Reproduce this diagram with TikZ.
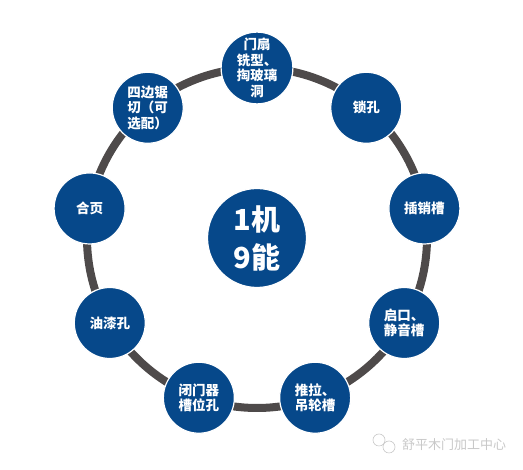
\documentclass[tikz,border=0pt]{standalone}
\usepackage{fontspec}
\setmainfont{Noto Sans CJK SC}
\usetikzlibrary{positioning}
\definecolor{ringgray}{RGB}{78,74,74}
\definecolor{nodeblue}{RGB}{6,72,138}
\definecolor{markgray}{RGB}{200,200,200}

\begin{document}
\begin{tikzpicture}[x=1pt, y=1pt,
  item/.style={circle, fill=nodeblue, draw=white, line width=1.2pt, minimum size=71pt, inner sep=0pt,
    text=white, align=center, font=\bfseries\fontsize{13.5}{15.5}\selectfont},
  hub/.style={circle, fill=nodeblue, draw=white, line width=1.2pt, minimum size=99pt, inner sep=0pt,
    text=white, align=center, font=\bfseries\fontsize{29}{38}\selectfont}]
\useasboundingbox (0,0) rectangle (523,470);
\coordinate (o) at (257,232);
% ring
\draw[ringgray, line width=8pt] (o) circle (170pt);
\node[hub] (hub) at (o) {1机\\9能};
% nine functions
\node[item] (door)  at ([shift={(90:170pt)}]o)   {门扇\\铣型、\\掏玻璃\\洞};
\node[item] (lock)  at ([shift={(50:170pt)}]o)   {锁孔};
\node[item] (bolt)  at ([shift={(10:170pt)}]o)   {插销槽};
\node[item] (rebate) at ([shift={(-30:170pt)}]o) {启口、\\静音槽};
\node[item] (slide) at ([shift={(-70:170pt)}]o)  {推拉、\\吊轮槽};
\node[item] (closer) at ([shift={(-110:170pt)}]o) {闭门器\\槽位孔};
\node[item] (paint) at ([shift={(-150:170pt)}]o) {油漆孔};
\node[item] (hinge) at ([shift={(170:170pt)}]o)  {合页};
\node[item] (saw)   at ([shift={(130:170pt)}]o)  {四边锯\\切（可\\选配）};
% watermark
\node[text=markgray, font=\fontsize{13}{14}\selectfont, anchor=west, inner sep=0pt] (mark) at (402,25) {舒平木门加工中心};
\draw[markgray, line width=0.6pt] (379,30) circle (6pt) (389,23) circle (6pt);
\end{tikzpicture}
\end{document}
